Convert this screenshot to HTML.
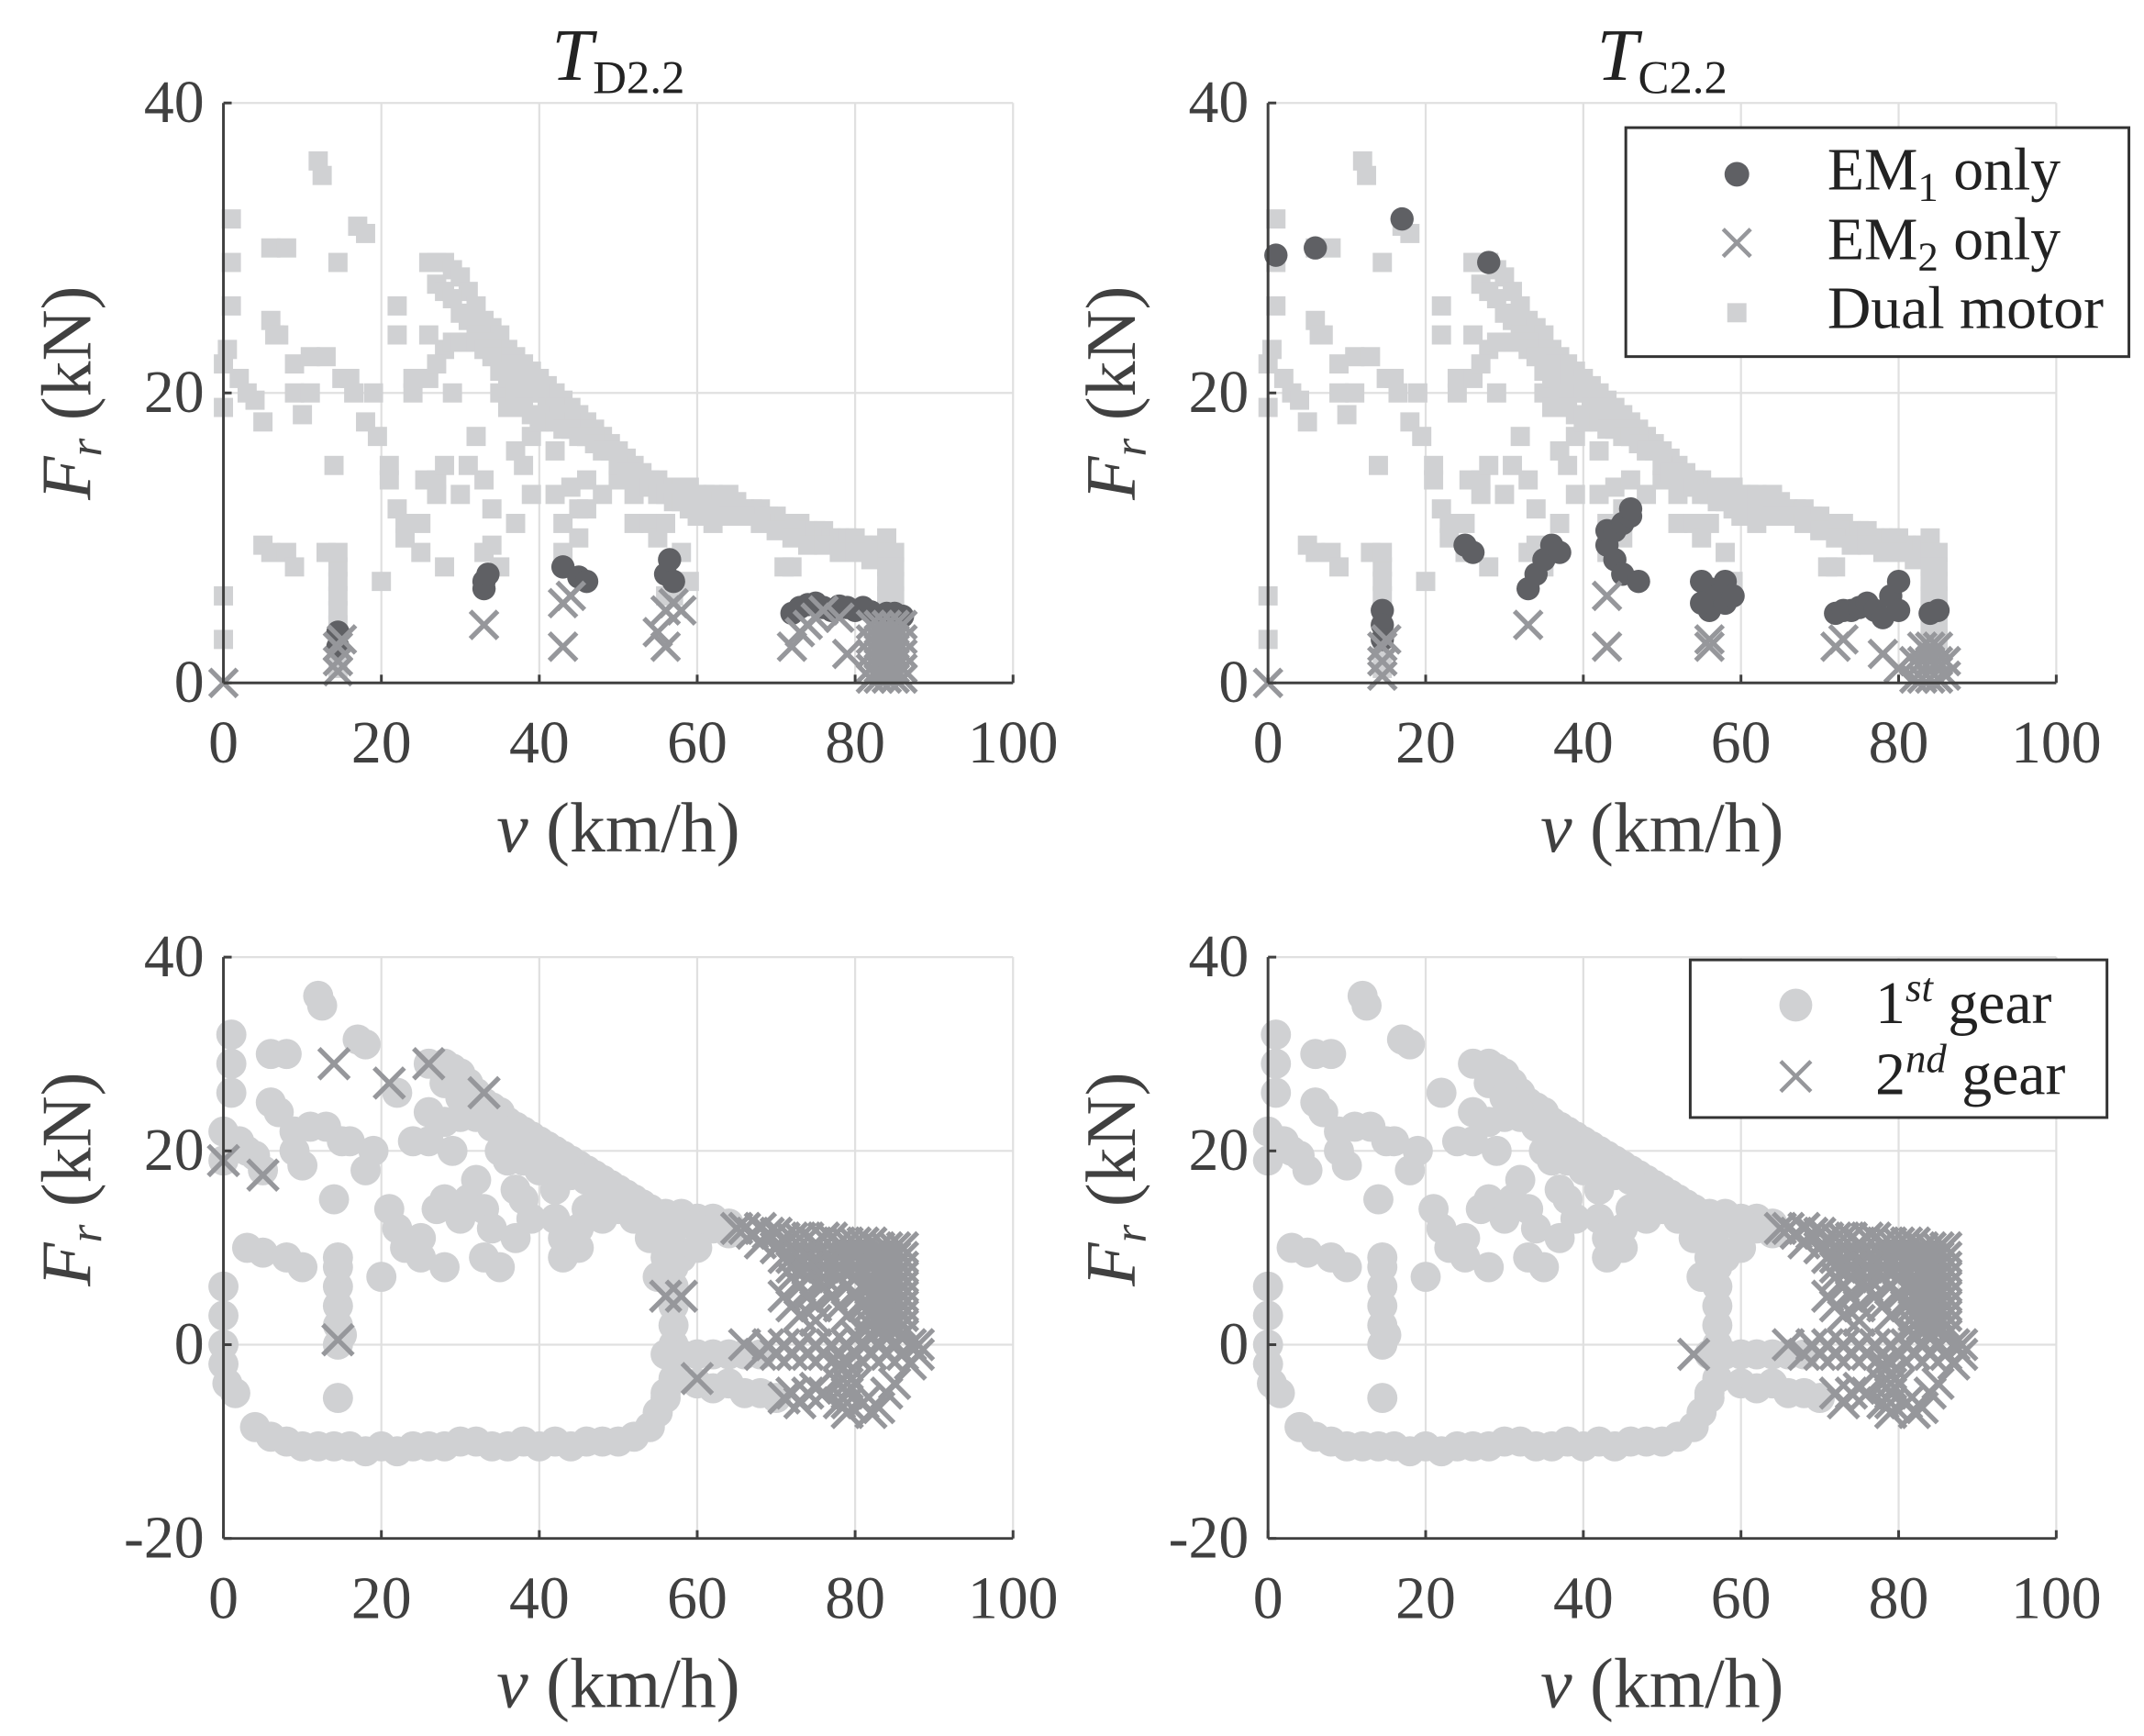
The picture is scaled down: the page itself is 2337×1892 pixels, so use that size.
<!DOCTYPE html>
<html><head><meta charset="utf-8"><style>
html,body{margin:0;padding:0;background:#fff}
svg{display:block}
text{font-family:"Liberation Serif",serif}
</style></head><body>
<svg id="fig" xmlns="http://www.w3.org/2000/svg" width="2337" height="1892" viewBox="0 0 1564 1266">
<g id="root"></g>
</svg>
<script>
// ---- shared data ----
const dualSquares = [[0,3],[0,6],[0,19],[0,22],[0.5,23],[1,26],[1,29],[1,32],[2,21],[3,20],[4,19.5],[5,18],[6,30],[6,25],[6.5,24],[7,24],[8,30],[9,22],[9,20],[10,18.5],[11,22.5],[11,20],[12,36],[12.5,35],[13,22.5],[14,15],[14.5,29],[15,21],[16,21],[16.5,20],[17,31.5],[18,31],[18,18],[19,20],[20,7],[19.5,17],[21,15],[21,14],[22,26],[22,24],[22,12],[23,10],[23,11],[24,21],[24,20],[25,11],[25,9],[25.5,14],[26,24],[27,14],[27,13],[28,15],[28,8],[29,20],[30,13],[31,15],[32,17],[33,14],[33,9],[34,12],[34,9.5],[35,20],[35,8],[36,19],[37,16],[37,11],[38,15],[39,13],[39,17],[40,18],[42,16],[42,13],[43,11],[43,9],[44,18],[44,13.5],[45,12],[45,10],[46,12],[46,14],[48,13],[50,14],[52,13],[52,11],[54,11],[55,10],[56,6],[56,11],[58,9],[59,7],[60,11.5],[62,11],[64,13],[5,9.5],[6,9],[8,9],[9,8],[13,9],[14.5,1],[14.5,2],[14.5,3],[14.5,4],[14.5,5],[14.5,6],[14.5,7],[14.5,8],[14.5,9],
[26,29],[27,29],[28,29],[29,28.5],[30,28],[31,27],[32,26],[33,25],[34,24.5],[35,24],[36,23],[37,22.5],[38,22],[39,21.5],[40,21],[41,20.5],[42,20],[43,19.5],[44,19],[45,18.5],[46,18],[47,17.5],[48,17],[49,16.5],[50,16],[51,15.5],[52,15],[53,14.5],[54,14],[55,14],[56,13.5],[57,13.5],[58,13.5],[59,13.5],[60,13],[61,13],[62,13],[63,12.5],[64,12.5],[65,12.5],[66,12],[67,12],[68,12],[69,11.5],[70,11.5],[71,11],[72,11],[73,11],[74,10.5],[75,10.5],[76,10.5],[77,10],[78,10],[79,10],[80,10],[81,9.5],[82,9.5],[83,9.5],
[27,27.5],[28,27],[29,26.5],[30,25.5],[31,25],[32,24],[33,23.5],[34,23],[35,22.5],[36,22],[37,21],[38,20.5],[39,20],[40,20],[41,19],[42,19],[43,18.5],[44,18],[45,17.5],[46,17],[47,17],[48,16.5],[49,16],[50,15],[51,14.5],[52,14],[53,14],[54,13.5],[55,13],[56,13],[57,12.5],[58,12.5],[59,12],[60,12],[62,12],[64,11.5],[66,11.5],[68,11],[70,10.5],[72,10],[74,9.5],[76,9.5],[78,9],[80,9],[82,8.5],[71,8],[72,8],
[28,23],[29,23.5],[30,23.5],[31,23.5],[32,23.5],[33,23],[34,22.5],[35,21.5],[36,21],[37,20],[38,19],[39,18.5],[40,18.5],[41,18],[42,18],[43,17.5],[44,17.5],[45,17],[46,17],[47,16.5],[48,16],[26,21],[27,22],
[84,10],[84,9],[84,8],[84,7],[84,6],[84,5],[84,4],[84,3],[84,2],[84,1],[85,9],[85,8],[85,7],[85,6],[85,5],[85,4],[85,3],[85,1],[57,6]];
const gear1Circles = [[0,6],[0,3],[0,0],[0,-2],[0.5,-4],[1.5,-5],[4,-8.5],[6,-9.5],[8,-10],[10,-10.5],[12,-10.5],[14,-10.5],[16,-10.5],[18,-11],[20,-10.5],[22,-11],[24,-10.5],[26,-10.5],[28,-10.5],[30,-10],[32,-10],[34,-10.5],[36,-10.5],[38,-10],[40,-10.5],[42,-10],[44,-10.5],[46,-10],[48,-10],[50,-10],[52,-9.5],[54,-8.5],[55,-7],[56,-5.5],[57,-3.5],[56,-1],[58,-1],[60,-1],[62,-1],[64,-1],[66,-1],[68,-1],[56,-5],[60,-4],[62,-4.5],[64,-4],[66,-5],[68,-5],[70,-5.5],
[57,0],[57,2],[57,4],[57,6],[57,8],[57,10],[57,12],[56,13],[55,7],[56,9],[14.5,0],[14.5,2],[14.5,4],[14.5,6],[14.5,8],[14.5,-5.5],[15,1],
[0,19],[0,22],[1,26],[1,29],[1,32],[2,21],[3,20],[4,19.5],[5,18],[6,30],[6,25],[7,24],[8,30],[9,22],[9,20],[10,18.5],[11,22.5],[12,36],[12.5,35],[13,22.5],[14,15],[15,21],[16,21],[17,31.5],[18,31],[18,18],[19,20],[20,7],[21,14],[22,26],[22,12],[23,10],[24,21],[25,11],[25,9],[26,24],[27,14],[28,15],[28,8],[29,20],[30,13],[31,15],[32,17],[33,14],[33,9],[34,12],[35,20],[35,8],[36,19],[37,16],[37,11],[38,15],[39,13],[40,18],[42,16],[42,13],[43,11],[43,9],[44,18],[45,12],[45,10],[46,14],[48,13],[50,14],[52,13],[54,11],[56,11],[58,9],[5,9.5],[8,9],[3,10],[10,8],[14.5,9],
[26,29],[28,29],[29,28.5],[30,28],[31,27],[32,26],[33,25],[34,24.5],[35,24],[36,23],[37,22.5],[38,22],[39,21.5],[40,21],[41,20.5],[42,20],[43,19.5],[44,19],[45,18.5],[46,18],[47,17.5],[48,17],[49,16.5],[50,16],[51,15.5],[52,15],[53,14.5],[54,14],[56,13.5],[58,13.5],[60,13],[62,13],[64,12.5],
[28,27],[30,25.5],[32,24],[34,23],[36,22],[38,20.5],[40,20],[42,19],[44,18],[46,17],[48,16.5],[50,15],[52,14],[54,13.5],[56,13],[58,12.5],[60,12],[62,12],[64,11.5],
[28,23],[30,23.5],[32,23.5],[34,22.5],[36,21],[38,19],[40,18.5],[42,18],[44,17.5],[46,17],[48,16],[26,21],[60,10]];
// ---- top-left ----
const em1TL = [[14.5,3.5],[14.5,2.5],[33,6.5],[33,7],[33.5,7.5],[43,8],[45,7.3],[46,7],[56,7.5],[56.5,8.5],[57,7],[72,4.8],[73,5.2],[74,5.4],[75,5.5],[76,5.2],[77,5],[78,5.3],[79,5.2],[80,5],[81,5.2],[82,4.9],[84,4.8],[85,4.8],[86,4.6]];
const em2TL = [[0,0],[14.5,0.8],[14.5,1.5],[14.5,2.5],[15,3],[33,4],[43,2.5],[43,5.5],[44,6],[55,3.5],[56,2.5],[56,5],[57,5.5],[58,5],[72,2.5],[73,3.5],[74,4],[75,4.5],[76,5],[78,4.5],[79,2],
[82,0.3],[82,1],[82,2],[82,3],[82,4],[83,0.3],[83,1],[83,2],[83,3],[83,4],[84,0.3],[84,1],[84,2],[84,3],[84,4],[85,0.3],[85,1],[85,2],[85,3],[85,4],[86,0.3],[86,1],[86,2],[86,3],[86,4]];
// ---- top-right ----
const em1TR = [[1,29.5],[6,30],[17,32],[14.5,5],[14.5,4],[14.5,3],[25,9.5],[26,9],[33,6.5],[34,7.5],[35,8.5],[36,9.5],[37,9],[43,9.5],[43,10.5],[44,8.5],[44,10.5],[45,11],[45,7.5],[46,11.5],[46,12],[47,7],[55,7],[56,6.5],[56,5],[57,6],[58,5.5],[58,7],[59,6],[55,5.5],[72,4.8],[73,5],[74,5],[75,5.2],[76,5.5],[77,5],[78,4.5],[79,6],[80,7],[80,5],[84,4.8],[85,5],[28,29]];
const em2TR = [[0,0],[14.5,0.5],[14.5,1.5],[14.5,2.5],[15,3],[33,4],[43,2.5],[43,6],[56,3],[56,2.5],[72,2.5],[73,3],[78,2],[80,1],
[82,0.3],[82,1.5],[83,0.3],[83,1.5],[84,0.3],[84,1.5],[85,0.3],[85,1.5],[86,0.5],[86,1.5],[84,2.5],[85,2.5],[83,2.5]];
// ---- bottom ----
const gear2Common = [
[65,12],[66,12],[67,11.5],[68,12],[69,11.5],[70,11.5],[71,11],[72,11],[73,11],[74,11],[75,10.5],[76,11],[77,11],[78,10.5],[79,10.5],[80,10.5],[81,10.5],[82,10.5],[83,10],[84,10],[85,10],[86,10],
[68,10.5],[70,10],[71,9],[72,9],[73,9],[74,9],[75,9],[76,9],[77,9],[78,9],[79,9],[80,9],[81,9],[82,9],[83,9],[84,9],[85,9],[86,9],
[72,8],[74,8],[76,8],[78,8],[80,8],[82,8],[84,8],[85,8],[86,8],[72,7],[74,7],[76,7],[78,7],[80,7],[82,7],[84,7],[85,7],[86,7],
[81,6],[82,6],[83,6],[84,6],[85,6],[86,6],[82,5],[83,5],[84,5],[85,5],[86,5],[82,4],[83,4],[84,4],[85,4],[86,4],[82,3],[83,3],[84,3],[85,3],[86,3],[82,2],[83,2],[84,2],[85,2],[86,2],[82,1],[84,1],[86,1],
[71,5],[72,4],[73,6],[74,5],[75,4],[76,6],[77,5],[78,4],[79,6],[80,5],[81,4],[73,3],[75,2.5],[79,3],
[66,0],[68,-1],[69,0],[70,-1],[71,0],[72,-1],[73,0],[74,-1],[75,0],[76,-1],[77,0],[78,-1],[79,0],[80,-1],[81,0],[82,-1],[83,0],[84,-1],[85,0],[86,-1],[87,0],[88,-1],[88,0],[87,-2],[86,1],
[79,-2],[79,-3],[79,-4],[79,-5],[79,-6],[79,-7],[78,-2],[78,-4],[78,-6],[80,-4],
[72,-5],[73,-6],[74,-5],[75,-4.5],[76,-5],[82,-7],[83,-6.5],[84,-5],[85,-4],[81,-6]];
const gear2BL = [[0,19],[5,17.5],[14,29],[21,27],[26,29],[33,26],[14.5,0.5],[56,5],[58,5],[60,-3.5],[71,-5.5],[80,1]];
const gear2BR = [[54,-1]];
const xTicks = [0,20,40,60,80,100];
const yTicksTop = [0,20,40];
const yTicksBot = [-20,0,20,40];

const NS='http://www.w3.org/2000/svg';
const root=document.getElementById('root');
function mk(tag,attrs,parent){const e=document.createElementNS(NS,tag);for(const k in attrs)e.setAttribute(k,attrs[k]);(parent||root).appendChild(e);return e;}
const C_SQ='#d0d1d3', C_EM1='#5f6064', C_X='#96979b', C_AX='#404040';

function panel(name,x0,x1,ymin,ymax,yTopPx,yBotPx,yTicks,title){
  const g=mk('g',{});
  
  
  const sx=v=>x0+(v-0)/100*(x1-x0);
  const sy=f=>yBotPx-(f-ymin)/(ymax-ymin)*(yBotPx-yTopPx);
  const grid=mk('g',{},g);
  
  
  xTicks.forEach(t=>{mk('line',{x1:sx(t),x2:sx(t),y1:yTopPx,y2:yBotPx,stroke:'#e0e0e0','stroke-width':1.5},grid);});
  yTicks.forEach(t=>{mk('line',{x1:x0,x2:x1,y1:sy(t),y2:sy(t),stroke:'#e0e0e0','stroke-width':1.5},grid);});
  const marks=mk('g',{},g);
  
  
  return {g,sx,sy,marks,x0,x1,ymin,yTopPx,yBotPx,yTicks,title};
}
function axes(p){
  const {g,sx,sy,x0,x1,yTopPx,yBotPx,yTicks,title}=p;
  const ax=mk('g',{},g);
  
  
  mk('line',{x1:x0,x2:x0,y1:yTopPx,y2:yBotPx,stroke:C_AX,'stroke-width':2},ax);
  mk('line',{x1:x0,x2:x1,y1:yBotPx,y2:yBotPx,stroke:C_AX,'stroke-width':2},ax);
  xTicks.forEach(t=>{
    mk('line',{x1:sx(t),x2:sx(t),y1:yBotPx,y2:yBotPx-6,stroke:C_AX,'stroke-width':2},ax);
    const tx=mk('text',{x:sx(t),y:yBotPx+58,'text-anchor':'middle','font-size':44,fill:C_AX},ax);
    tx.textContent=t;
    
    
  });
  yTicks.forEach(t=>{
    mk('line',{x1:x0,x2:x0+6,y1:sy(t),y2:sy(t),stroke:C_AX,'stroke-width':2},ax);
    const tx=mk('text',{x:x0-14,y:sy(t)+14,'text-anchor':'end','font-size':44,fill:C_AX},ax);
    tx.textContent=t;
    
    
  });
  const xl=mk('text',{x:(x0+x1)/2,y:yBotPx+123,'text-anchor':'middle','font-size':52,fill:C_AX},ax);
  xl.innerHTML='<tspan font-style="italic">v</tspan> (km/h)';
  
  
  const cy=(yTopPx+yBotPx)/2 + (p.ymin<0?-50:0);
  const lx=x0-97;
  const yl=mk('text',{x:lx,y:cy,'text-anchor':'middle','font-size':52,fill:C_AX,transform:`rotate(-90 ${lx} ${cy})`},ax);
  yl.innerHTML='<tspan font-style="italic">F</tspan><tspan font-style="italic" font-size="34" dy="8">r</tspan><tspan dy="-8"> (kN)</tspan>';
  
  
  if(title){
    const tt=mk('text',{x:(x0+x1)/2,y:58,'text-anchor':'middle','font-size':54,fill:'#222'},ax);
    tt.innerHTML='<tspan font-style="italic">T</tspan><tspan font-size="34" dy="10">'+title+'</tspan>';
    
    
  }
}
function squares(p,arr){arr.forEach(d=>{const r=mk('rect',{x:p.sx(d[0])-7,y:p.sy(d[1])-7,width:14,height:14,fill:C_SQ},p.marks);
  
  });}
function circles(p,arr,rad,col,nm){arr.forEach(d=>{const c=mk('circle',{cx:p.sx(d[0]),cy:p.sy(d[1]),r:rad,fill:col},p.marks);
  
  });}
function crosses(p,arr,h,nm){arr.forEach(d=>{const x=p.sx(d[0]),y=p.sy(d[1]);
  const pth=mk('path',{d:`M${x-h},${y-h}L${x+h},${y+h}M${x-h},${y+h}L${x+h},${y-h}`,stroke:C_X,'stroke-width':3.5,fill:'none'},p.marks);
  
  });}

const tl=panel('panel-top-left',163,739,0,40,75,498,yTicksTop,'D2.2');
squares(tl,dualSquares);circles(tl,em1TL,8.5,C_EM1,'em1-point');crosses(tl,em2TL,10,'em2-point');axes(tl);
const tr=panel('panel-top-right',925,1500,0,40,75,498,yTicksTop,'C2.2');
squares(tr,dualSquares);circles(tr,em1TR,8.5,C_EM1,'em1-point');crosses(tr,em2TR,10,'em2-point');axes(tr);
const bl=panel('panel-bottom-left',163,739,-20,40,698,1122,yTicksBot,null);
circles(bl,gear1Circles,11,C_SQ,'gear1-point');crosses(bl,gear2Common,11,'gear2-point');crosses(bl,gear2BL,11,'gear2-point');axes(bl);
const br=panel('panel-bottom-right',925,1500,-20,40,698,1122,yTicksBot,null);
circles(br,gear1Circles,11,C_SQ,'gear1-point');crosses(br,gear2Common,11,'gear2-point');crosses(br,gear2BR,11,'gear2-point');axes(br);

// legends
function legend(name,x,y,w,h){const g=mk('g',{});
  mk('rect',{x,y,width:w,height:h,fill:'#fff',stroke:'#333','stroke-width':2},g);return g;}
const lg1=legend('legend-top',1186,93,367,167);
mk('circle',{cx:1267,cy:127,r:9,fill:C_EM1},lg1);
mk('path',{d:'M1257,167L1277,187M1257,187L1277,167',stroke:C_X,'stroke-width':3},lg1);
mk('rect',{x:1260,y:221,width:14,height:14,fill:C_SQ},lg1);
[['EM<tspan font-size="30" dy="8">1</tspan><tspan dy="-8"> only</tspan>',138],['EM<tspan font-size="30" dy="8">2</tspan><tspan dy="-8"> only</tspan>',189],['Dual motor',239]].forEach(e=>{
  const t=mk('text',{x:1333,y:e[1],'font-size':44,fill:'#222'},lg1);t.innerHTML=e[0];
  
  });
const lg2=legend('legend-bottom',1233,700,304,115);
mk('circle',{cx:1310,cy:733,r:12,fill:C_SQ},lg2);
mk('path',{d:'M1299,774L1321,796M1299,796L1321,774',stroke:C_X,'stroke-width':3},lg2);
[['1<tspan font-style="italic" font-size="30" dy="-16">st</tspan><tspan dy="16"> gear</tspan>',746],['2<tspan font-style="italic" font-size="30" dy="-16">nd</tspan><tspan dy="16"> gear</tspan>',798]].forEach(e=>{
  const t=mk('text',{x:1368,y:e[1],'font-size':44,fill:'#222'},lg2);t.innerHTML=e[0];
  
  });
</script>
</body></html>
